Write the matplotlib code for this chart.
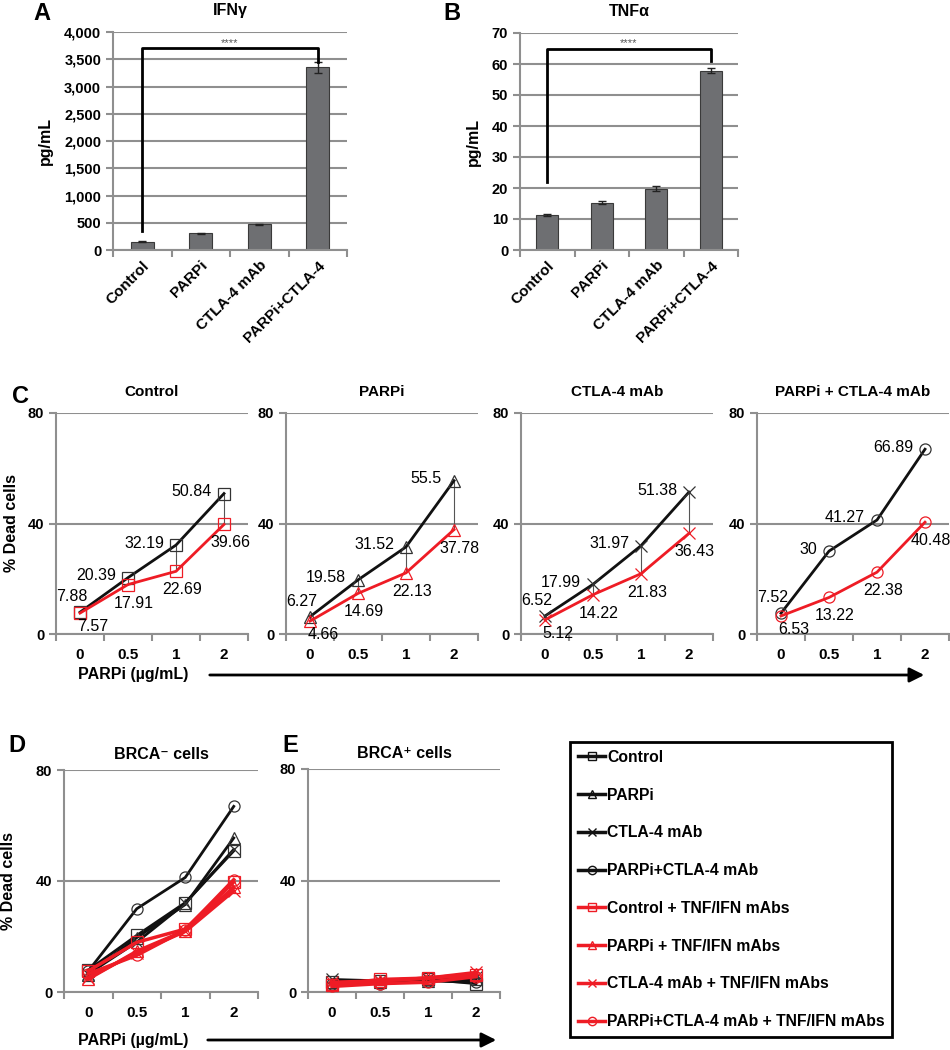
import numpy as np
import matplotlib.pyplot as plt
from matplotlib.lines import Line2D
from matplotlib.patches import FancyArrowPatch

plt.rcParams['font.family'] = ['Liberation Sans', 'DejaVu Sans']

W, H = 950, 1050
GRID = '#8f8f8f'
RED = '#ee1c25'
BLACK = '#111111'
BAR = '#6e6f72'

# ---- data -------------------------------------------------------------
cyto_groups = ['Control', 'PARPi', 'CTLA-4 mAb', 'PARPi+CTLA-4']
ifng_vals = [150, 310, 475, 3350]
ifng_err = [8, 10, 10, 100]
tnfa_vals = [11.3, 15.3, 19.7, 57.8]
tnfa_err = [0.2, 0.4, 0.8, 0.8]

doses = ['0', '0.5', '1', '2']
panel_titles = ['Control', 'PARPi', 'CTLA-4 mAb', 'PARPi + CTLA-4 mAb']
legend_names = ['Control', 'PARPi', 'CTLA-4 mAb', 'PARPi+CTLA-4 mAb']
markers = ['s', '^', 'x', 'o']

# BRCA- cells, % dead
brca_neg = [[7.88, 20.39, 32.19, 50.84],
            [6.27, 19.58, 31.52, 55.5],
            [6.52, 17.99, 31.97, 51.38],
            [7.52, 30, 41.27, 66.89]]
# BRCA- cells + TNF/IFN blocking mAbs
brca_neg_ab = [[7.57, 17.91, 22.69, 39.66],
               [4.66, 14.69, 22.13, 37.78],
               [5.12, 14.22, 21.83, 36.43],
               [6.53, 13.22, 22.38, 40.48]]
# BRCA+ cells
brca_pos = [[3.5, 4.0, 4.5, 3.0],
            [3.0, 3.5, 4.0, 4.5],
            [4.5, 4.0, 4.5, 5.5],
            [3.0, 3.0, 4.0, 3.5]]
brca_pos_ab = [[2.5, 4.5, 5.0, 6.0],
               [3.0, 4.0, 5.0, 6.5],
               [3.5, 4.0, 5.0, 7.0],
               [2.0, 3.0, 3.5, 5.5]]


def px_axes(fig, l, t, r, b):
    return fig.add_axes([l / W, 1 - b / H, (r - l) / W, (b - t) / H])


def style(ax, n=4, xpad=6):
    for s in ['top', 'right']:
        ax.spines[s].set_visible(False)
    for s in ['left', 'bottom']:
        ax.spines[s].set_color(GRID)
        ax.spines[s].set_linewidth(1.5)
    ax.yaxis.grid(True, color=GRID, lw=1.5)
    ax.set_axisbelow(True)
    ax.set_xlim(-0.5, n - 0.5)
    ax.set_xticks(np.arange(n))
    ax.set_xticks(np.arange(n + 1) - 0.5, minor=True)
    ax.tick_params(axis='x', which='major', length=0, pad=xpad)
    ax.tick_params(axis='x', which='minor', length=5, width=1.5, color=GRID)
    ax.tick_params(axis='y', length=5, width=1.5, color=GRID)


fig = plt.figure(figsize=(W / 100, H / 100), dpi=100)

# ---- A / B: cytokine bars ---------------------------------------------
def bar_panel(rect, vals, errs, ymax, ystep, fmt, title, letter, letter_x, bracket):
    ax = px_axes(fig, *rect)
    style(ax)
    x = np.arange(len(vals))
    ax.bar(x, vals, width=0.4, color=BAR, edgecolor='#3a3a3a', lw=0.8, zorder=2)
    ax.errorbar(x, vals, yerr=errs, fmt='none', ecolor='#222222', elinewidth=1,
                capsize=3, capthick=1, zorder=3)
    ax.set_ylim(0, ymax)
    ticks = np.arange(0, ymax + 1, ystep)
    ax.set_yticks(ticks)
    ax.set_yticklabels([fmt(t) for t in ticks], fontsize=10.5, fontweight='bold')
    ax.set_xticklabels(cyto_groups, rotation=45, ha='right', rotation_mode='anchor',
                       fontsize=11, fontweight='bold')
    ax.set_ylabel('pg/mL', fontsize=11.5, fontweight='bold', labelpad=8)
    ax.set_title(title, fontsize=11.5, fontweight='bold', pad=12)
    top, ylo, yhi = bracket
    ax.plot([0, 0, 3, 3], [ylo, top, top, yhi], color='k', lw=2, zorder=4,
            clip_on=False)
    ax.text(1.5, top, '****', ha='center', va='bottom', fontsize=8, color='#555555')
    fig.text(letter_x / W, 1 - 14 / H, letter, fontsize=17, fontweight='bold',
             ha='left', va='center')
    return ax


bar_panel((113, 32, 347, 250), ifng_vals, ifng_err, 4000, 500,
          lambda t: f'{int(t):,}', 'IFNγ', 'A', 33, (3700, 350, 3450))
bar_panel((520, 33, 738, 250), tnfa_vals, tnfa_err, 70, 10,
          lambda t: f'{int(t)}', 'TNFα', 'B', 443, (65, 22, 61))

# ---- C: per-treatment dose response ------------------------------------
c_lefts = [56, 286, 521, 757]
for i in range(4):
    ax = px_axes(fig, c_lefts[i], 413, c_lefts[i] + 192, 634)
    style(ax, xpad=10)
    x = np.arange(4)
    blk, red = brca_neg[i], brca_neg_ab[i]
    if i < 3:
        ax.vlines(x, red, blk, color='#555555', lw=0.8, zorder=2)
    ax.plot(x, blk, color=BLACK, lw=2, marker=markers[i], ms=8, mfc='none',
            mec='#333333', mew=0.9, zorder=3)
    ax.plot(x, red, color=RED, lw=2, marker=markers[i], ms=8, mfc='none',
            mec=RED, mew=0.9, zorder=3)
    for j in range(4):
        if j == 0:
            ax.annotate(f'{blk[j]:g}', (x[j], blk[j]), xytext=(-8, 8),
                        textcoords='offset pixels', ha='center', va='bottom',
                        fontsize=11.5)
            ax.annotate(f'{red[j]:g}', (x[j], red[j]), xytext=(13, -6),
                        textcoords='offset pixels', ha='center', va='top',
                        fontsize=11.5)
        else:
            ax.annotate(f'{blk[j]:g}', (x[j], blk[j]), xytext=(-12, 2),
                        textcoords='offset pixels', ha='right', va='center',
                        fontsize=11.5)
            ax.annotate(f'{red[j]:g}', (x[j], red[j]), xytext=(6, -11),
                        textcoords='offset pixels', ha='center', va='top',
                        fontsize=11.5)
    ax.set_ylim(0, 80)
    ax.set_yticks([0, 40, 80])
    ax.set_yticklabels(['0', '40', '80'], fontsize=10.5, fontweight='bold')
    ax.set_xticklabels(doses, fontsize=11, fontweight='bold')
    ax.set_title(panel_titles[i], fontsize=11, fontweight='bold', pad=12)
    if i == 0:
        ax.set_ylabel('% Dead cells', fontsize=11.5, fontweight='bold', labelpad=6)

fig.text(12 / W, 1 - 397 / H, 'C', fontsize=17, fontweight='bold', va='center')
fig.text(133 / W, 1 - 675 / H, 'PARPi (µg/mL)', fontsize=11.5, fontweight='bold',
         ha='center', va='center')
fig.add_artist(FancyArrowPatch((207 / W, 1 - 675 / H), (927 / W, 1 - 675 / H),
                               transform=fig.transFigure, arrowstyle='-|>',
                               mutation_scale=22, lw=2, color='k'))

# ---- D / E: BRCA- vs BRCA+ --------------------------------------------
def dose_panel(rect, black_sets, red_sets, title, ylabel):
    ax = px_axes(fig, *rect)
    style(ax, xpad=10)
    x = np.arange(4)
    for k in range(4):
        ax.plot(x, black_sets[k], color=BLACK, lw=2, marker=markers[k], ms=8,
                mfc='none', mec='#333333', mew=0.9, zorder=3)
    for k in range(4):
        ax.plot(x, red_sets[k], color=RED, lw=2.5, marker=markers[k], ms=8,
                mfc='none', mec=RED, mew=0.9, zorder=4)
    ax.set_ylim(0, 80)
    ax.set_yticks([0, 40, 80])
    ax.set_yticklabels(['0', '40', '80'], fontsize=10.5, fontweight='bold')
    ax.set_xticklabels(doses, fontsize=11, fontweight='bold')
    ax.set_title(title, fontsize=11.5, fontweight='bold', pad=8)
    if ylabel:
        ax.set_ylabel('% Dead cells', fontsize=11.5, fontweight='bold', labelpad=14)
    return ax


dose_panel((64, 770, 258, 992), brca_neg, brca_neg_ab, 'BRCA⁻ cells', True)
dose_panel((308, 769, 500, 992), brca_pos, brca_pos_ab, 'BRCA⁺ cells', False)
fig.text(8 / W, 1 - 745 / H, 'D', fontsize=17, fontweight='bold', va='center')
fig.text(282 / W, 1 - 745 / H, 'E', fontsize=17, fontweight='bold', va='center')
fig.text(133 / W, 1 - 1040 / H, 'PARPi (µg/mL)', fontsize=11.5, fontweight='bold',
         ha='center', va='center')
fig.add_artist(FancyArrowPatch((205 / W, 1 - 1040 / H), (499 / W, 1 - 1040 / H),
                               transform=fig.transFigure, arrowstyle='-|>',
                               mutation_scale=22, lw=2, color='k'))

# ---- legend -----------------------------------------------------------
handles, labels = [], []
for k in range(4):
    handles.append(Line2D([], [], color=BLACK, lw=2.5, marker=markers[k], ms=6,
                          mfc='none', mec=BLACK, mew=1))
    labels.append(legend_names[k])
for k in range(4):
    handles.append(Line2D([], [], color=RED, lw=2.5, marker=markers[k], ms=6,
                          mfc='none', mec=RED, mew=1))
    labels.append(legend_names[k] + ' + TNF/IFN mAbs')
leg = fig.legend(handles, labels, loc='upper left', bbox_to_anchor=(570 / W, 1 - 742 / H),
                 frameon=True, fancybox=False, edgecolor='k', framealpha=1,
                 prop={'size': 11.3, 'weight': 'bold'}, labelspacing=1.45,
                 handlelength=1.75, handletextpad=0.1, borderpad=0.5,
                 borderaxespad=0)
leg.get_frame().set_linewidth(2)

fig.savefig('out.png', dpi=100)
